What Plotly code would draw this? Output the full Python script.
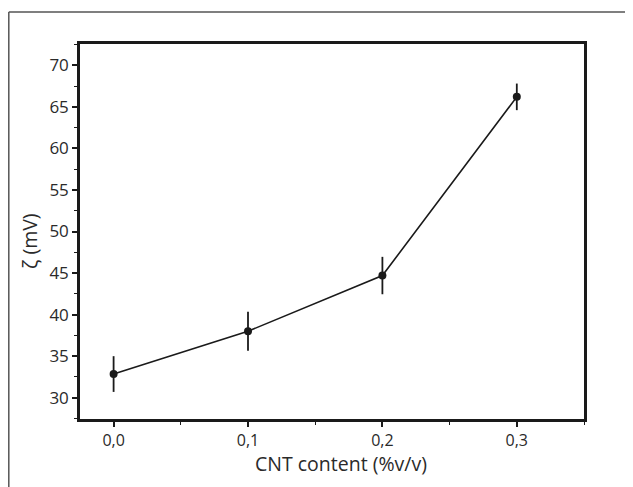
import plotly.graph_objects as go

cnt = [0.0, 0.1, 0.2, 0.3]
zeta = [32.85, 38.0, 44.7, 66.2]
zeta_err = [2.15, 2.35, 2.25, 1.6]

x_ticks = [0.0, 0.1, 0.2, 0.3]
x_minor = [0.05, 0.15, 0.25, 0.35]
y_ticks = [30, 35, 40, 45, 50, 55, 60, 65, 70]
y_minor = [27.5, 32.5, 37.5, 42.5, 47.5, 52.5, 57.5, 62.5, 67.5, 72.5]

x_title = "CNT content (%v/v)"
y_title = "ζ (mV)"

# The page body has an 8px default margin; margins below compensate for it.
W, H = 633, 487
ML, MR, MT, MB = 72, 57, 36, 76
PW, PH = W - ML - MR, H - MT - MB

fig = go.Figure()
fig.add_trace(go.Scatter(
    x=cnt, y=zeta, mode="lines+markers",
    line=dict(color="#1a1a1a", width=1.6),
    marker=dict(color="#1a1a1a", size=8),
    error_y=dict(type="data", array=zeta_err, visible=True, width=0,
                 color="#1a1a1a", thickness=1.8),
    showlegend=False,
))

font_family = "Open Sans, Noto Sans, sans-serif"
fig.update_layout(
    width=W, height=H,
    margin=dict(l=ML, r=MR, t=MT, b=MB, autoexpand=False),
    paper_bgcolor="white", plot_bgcolor="white",
    separators=",.",
    font=dict(family=font_family, color="#2a2a2a", size=17),
    xaxis=dict(
        range=[-0.025, 0.35], tickvals=x_ticks, tickformat=".1f",
        showgrid=False, zeroline=False, showline=True, mirror=True,
        linecolor="#1a1a1a", linewidth=2.5, automargin=False,
        ticks="outside", ticklen=5, tickwidth=1.5, tickcolor="#1a1a1a",
        minor=dict(tickvals=x_minor, ticks="outside", ticklen=3,
                   tickwidth=1.3, tickcolor="#1a1a1a"),
        tickfont=dict(size=16),
    ),
    yaxis=dict(
        range=[27.44, 72.56], tickvals=y_ticks,
        showgrid=False, zeroline=False, showline=True, mirror=True,
        linecolor="#1a1a1a", linewidth=2.5, automargin=False,
        ticks="outside", ticklen=5, tickwidth=1.5, tickcolor="#1a1a1a",
        minor=dict(tickvals=y_minor, ticks="outside", ticklen=3,
                   tickwidth=1.3, tickcolor="#1a1a1a"),
        tickfont=dict(size=17),
    ),
    annotations=[
        dict(text=x_title, xref="paper", yref="paper",
             x=(341 - 8 - ML) / PW, y=(MT + PH - (463 - 8)) / PH,
             xanchor="center", yanchor="middle", showarrow=False,
             font=dict(size=19.5)),
        dict(text=y_title, xref="paper", yref="paper", textangle=-90,
             x=(29 - 8 - ML) / PW, y=(MT + PH - (241 - 8)) / PH,
             xanchor="center", yanchor="middle", showarrow=False,
             font=dict(size=19.5)),
    ],
    shapes=[
        dict(type="line", xref="paper", yref="paper",
             x0=(0.8 - ML) / PW, x1=(W - ML) / PW,
             y0=(MT + PH - 4) / PH, y1=(MT + PH - 4) / PH,
             line=dict(color="#555", width=1.5)),
        dict(type="line", xref="paper", yref="paper",
             x0=(0.8 - ML) / PW, x1=(0.8 - ML) / PW,
             y0=(MT + PH - 4) / PH, y1=(MT + PH - H) / PH,
             line=dict(color="#555", width=1.5)),
    ],
)

fig.write_html("out.html")
